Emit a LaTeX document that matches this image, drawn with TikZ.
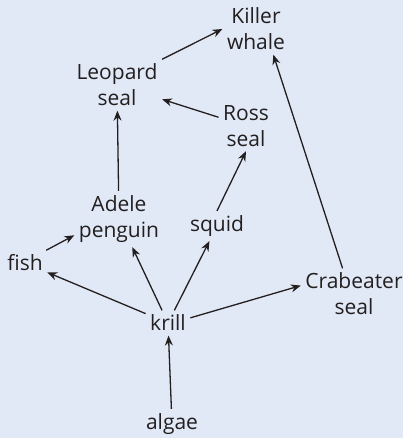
\documentclass[tikz,border=0pt]{standalone}
\usepackage{fontspec}
\setsansfont{Open Sans}
\usetikzlibrary{arrows.meta}
\definecolor{cbg}{HTML}{E1E9F6}
\definecolor{cink}{HTML}{231F20}
\tikzset{
  every picture/.style={font=\sffamily, line width=1.2pt},
  species/.style={text=cink, align=center, inner sep=4pt, font=\sffamily\fontsize{21}{26}\selectfont},
  arrow/.style={-{Stealth[length=3.5mm, width=2.8mm]}, draw=cink, line width=1.3pt},
}

\begin{document}
\begin{tikzpicture}[x=1pt, y=-1pt]
  \path[use as bounding box, fill=cbg] (0,0) rectangle (403,438);
  \node[species] (killer) at (256,29) {Killer\\whale};
  \node[species] (leopard) at (117,85) {Leopard\\seal};
  \node[species] (ross) at (246,126) {Ross\\seal};
  \node[species] (adele) at (119,219) {Adele\\penguin};
  \node[species] (squid) at (217,226) {squid};
  \node[species] (fish) at (25,263) {fish};
  \node[species] (crab) at (354,294) {Crabeater\\seal};
  \node[species] (krill) at (168,323) {krill};
  \node[species] (algae) at (172,424) {algae};
  \draw[arrow] (leopard.north east) -- (killer.west);
  \draw[arrow] (ross) -- (leopard);
  \draw[arrow] (adele) -- (leopard);
  \draw[arrow] (squid.north) -- (ross.south);
  \draw[arrow] (crab.114) -- (killer.-56);
  \draw[arrow] (fish.31) -- (adele.200);
  \draw[arrow] (krill) -- (fish);
  \draw[arrow] (krill) -- (adele);
  \draw[arrow] (krill) -- (squid);
  \draw[arrow] (krill.13) -- (crab.171);
  \draw[arrow] (algae) -- (krill);
\end{tikzpicture}
\end{document}
